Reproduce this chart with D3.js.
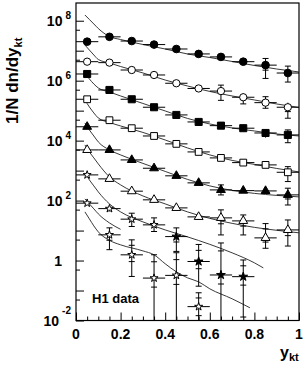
<!DOCTYPE html>
<html><head><meta charset="utf-8">
<script src="https://cdn.jsdelivr.net/npm/d3@7"></script>
<style>
body{margin:0;background:#fff}
svg{display:block}
text{font-family:"Liberation Sans",Arial,Helvetica,sans-serif;font-weight:bold;fill:#000}
</style>
</head><body>
<svg id="chart" width="305" height="371"></svg>
<script>
// ---------- data ----------
const bins = [0.05,0.15,0.25,0.35,0.45,0.55,0.65,0.75,0.85,0.95];
const binHalfWidth = 0.05;

const filledCircle = [2.0e7,2.9e7,2.1e7,1.6e7,1.14e7,7.8e6,6.2e6,4.3e6,3.3e6,1.8e6];
const filledCircleUp = [.05,.05,.05,.05,.05,.05,.05,.1,.67,.7];
const filledCircleDn = [.05,.05,.05,.05,.05,.05,.05,.1,.64,.5];

const openCircle = [4.3e6,4.0e6,2.27e6,1.55e6,8.2e5,5.5e5,4.5e5,2.8e5,1.85e5,1.3e5];
const openCircleUp = [.03,.03,.05,.05,.08,.1,.58,.36,.58,.42];
const openCircleDn = [.03,.03,.05,.05,.08,.1,.51,.4,.35,.57];

const filledSquare = [1.67e6,4.9e5,2.4e5,1.3e5,7.2e4,4.2e4,3.16e4,2.6e4,1.8e4,1.55e4];
const filledSquareUp = [.03,.03,.05,.05,.05,.08,.1,.1,.3,.47];
const filledSquareDn = [.03,.03,.05,.05,.05,.08,.1,.1,.3,.45];

const openSquare = [2.4e5,4.8e4,2.6e4,1.43e4,7.8e3,4.2e3,2.65e3,1.85e3,1.55e3,8.8e2];
const openSquareUp = [.03,.05,.05,.05,.08,.1,.1,.15,.15,.54];
const openSquareDn = [.03,.05,.05,.05,.08,.1,.1,.15,.15,.51];

const filledTriangle = [2.9e4,4.9e3,2.27e3,1.2e3,6.7e2,3.9e2,2.27e2,2.15e2,2.1e2,1.55e2];
const filledTriangleUp = [.03,.05,.05,.08,.1,.1,.47,.15,.2,.67];
const filledTriangleDn = [.03,.05,.05,.08,.1,.1,.32,.15,.2,.54];

const openTriangle = [4.9e3,5.3e2,2.06e2,1.06e2,57,28.6,26.5,21,5.7,10.5];
const openTriangleUp = [.05,.08,.1,.1,.12,.2,.85,.58,2.0,1.15];
const openTriangleDn = [.05,.08,.1,.1,.12,.2,.73,.66,.55,.71];

const openStarA = [719,54,24,15.5];
const openStarAUp = [.1,.2,.58,.71];
const openStarADn = [.1,.2,.43,.40];

const filledStar = [6.3,0.93,0.33,0.29];
const filledStarUp = [.95,2.7,10.7,2.6];
const filledStarDn = [.68,.85,1,.955];

const openStarB = [82,7.2,1.55,0.26,0.32,0.029];
const openStarBUp = [.1,.71,2.16,5.0,4.7,1.9];
const openStarBDn = [.1,.68,.81,1,1,1];

// model curves
const curveX = [0.04,0.06,0.08,0.1,0.15,0.2,0.3,0.4,0.5,0.6,0.7,0.8,0.9,1.0];
const curve1 = [1.55e8,1.1e8,7.8e7,5.5e7,2.97e7,2.36e7,1.61e7,1.14e7,7.76e6,5.93e6,4.37e6,3.21e6,2.45e6,1.95e6];
const curve2 = [1.55e7,1.05e7,7.2e6,5.09e6,3.89e6,2.97e6,1.81e6,1.05e6,6.66e5,4.37e5,3.09e5,2.27e5,1.67e5,1.28e5];
const curve3 = [1.81e6,1.14e6,7.76e5,5.71e5,4.2e5,3.09e5,1.74e5,9.77e4,5.5e4,3.6e4,2.65e4,2.1e4,1.67e4,1.43e4];
const curve4 = [2.27e5,1.33e5,8.4e4,5.7e4,4.04e4,3.09e4,1.88e4,1.05e4,5.71e3,3.34e3,2.19e3,1.61e3,1.18e3,9.05e2];
const curve5 = [3.89e4,2.27e4,1.43e4,9.05e3,4.9e3,3.34e3,1.74e3,9.4e2,5.09e2,3.09e2,2.19e2,1.74e2,1.49e2,1.33e2];
const curve6 = [7.2e3,4.2e3,2.65e3,1.67e3,6.17e2,3.34e2,1.43e2,77.6,42,25.5,17.4,12.8,10.2,8.4];
const curve7X = [0.04,0.06,0.08,0.1,0.15,0.2,0.3,0.4,0.5,0.6,0.7,0.8,0.84];
const curve7 = [840,490,309,195,77.6,42,19.5,10.5,6.17,3.47,1.81,0.84,0.57];
const curve8X = [0.04,0.06,0.08,0.1,0.15,0.2];
const curve8 = [114,77.6,53,36,18,11];
const curve9X = [0.04,0.06,0.08,0.1,0.15,0.2,0.3,0.35,0.4,0.45,0.5,0.55,0.6,0.7,0.78];
const curve9 = [42,24.5,14.3,9.05,4.71,3.34,2.1,1.55,0.78,0.42,0.265,0.195,0.114,0.053,0.0265];

const xTickLabels = ["0","0.2","0.4","0.6","0.8","1"];
const yLabelDecades = [8,6,4,2,0,-2];

// ---------- layout ----------
const svg = d3.select("#chart");
const L = 76, R = 299, T = 3, B = 320.5;
const x = d3.scaleLinear().domain([0,1]).range([L,R]);
const y = d3.scaleLog().domain([1e-2, 3.9e8]).range([B,T]);

svg.append("clipPath").attr("id","plotclip")
  .append("rect").attr("x",L).attr("y",T).attr("width",R-L).attr("height",B-T);

// ---------- axes ----------
const xMinor = d3.range(0,21).map(i=>i*0.05);
const xMajor = xTickLabels.map(Number);
svg.append("g").attr("transform",`translate(0,${B})`)
  .call(d3.axisBottom(x).tickValues(xMinor.filter(v=>!xMajor.some(m=>Math.abs(m-v)<1e-9))).tickSize(-4).tickFormat(""))
  .call(g=>g.select(".domain").remove());
svg.append("g").attr("transform",`translate(0,${B})`)
  .call(d3.axisBottom(x).tickValues(xMajor).tickSize(-8).tickFormat(""))
  .call(g=>g.select(".domain").remove());

const decades = d3.range(-2,9).map(k=>Math.pow(10,k));
const halves = d3.range(-2,8).map(k=>5*Math.pow(10,k));
svg.append("g").attr("transform",`translate(${L},0)`)
  .call(d3.axisLeft(y).tickValues(decades).tickSize(-8).tickFormat(""))
  .call(g=>g.select(".domain").remove());
svg.append("g").attr("transform",`translate(${L},0)`)
  .call(d3.axisLeft(y).tickValues(halves).tickSize(-4).tickFormat(""))
  .call(g=>g.select(".domain").remove());
svg.selectAll(".tick line").attr("stroke","#000").attr("stroke-width",1);

svg.append("rect").attr("x",L).attr("y",T).attr("width",R-L).attr("height",B-T)
  .attr("fill","none").attr("stroke","#000").attr("stroke-width",1.2);

// x tick labels
svg.append("g").selectAll("text").data(xTickLabels).join("text")
  .attr("x",d=>x(+d)).attr("y",B+18.5).attr("text-anchor","middle")
  .attr("font-size",14).text(d=>d);

// y tick labels
const yl = svg.append("g");
yLabelDecades.forEach(k=>{
  const yy = y(Math.pow(10,k));
  if(k===0){
    yl.append("text").attr("x",62).attr("y",yy+5).attr("text-anchor","end").attr("font-size",14).text("1");
  } else {
    const t = yl.append("text").attr("x",71).attr("y",yy+5).attr("text-anchor","end").attr("font-size",14);
    t.append("tspan").text("10");
    t.append("tspan").attr("dy",k<0?-12:-7).attr("dx",3).attr("font-size",10).text(String(k));
  }
});

// axis titles
const yt = svg.append("text").attr("transform",`translate(18,124) rotate(-90)`).attr("font-size",17);
yt.append("tspan").text("1/N dn/dy");
yt.append("tspan").attr("dy",4).attr("font-size",11).text("kt");

const xt = svg.append("text").attr("x",280).attr("y",358).attr("font-size",16);
xt.append("tspan").text("y");
xt.append("tspan").attr("dy",3).attr("font-size",11).text("kt");

svg.append("text").attr("x",92).attr("y",303).attr("font-size",13).text("H1 data");

// ---------- curves ----------
const plot = svg.append("g").attr("clip-path","url(#plotclip)");
const line = d3.line().x(d=>x(d[0])).y(d=>y(d[1])).curve(d3.curveMonotoneX);
const curves = [
  [curveX,curve1],[curveX,curve2],[curveX,curve3],[curveX,curve4],[curveX,curve5],
  [curveX,curve6],[curve7X,curve7],[curve8X,curve8],[curve9X,curve9]
];
curves.forEach(([xs,ys])=>{
  plot.append("path").datum(xs.map((v,i)=>[v,ys[i]])).attr("d",line)
    .attr("fill","none").attr("stroke","#222").attr("stroke-width",0.9);
});

// ---------- data points ----------
const series = [
  {xs:bins, v:filledCircle, up:filledCircleUp, dn:filledCircleDn, sym:d3.symbolCircle, size:46, fill:true},
  {xs:bins, v:openCircle, up:openCircleUp, dn:openCircleDn, sym:d3.symbolCircle, size:42, fill:false},
  {xs:bins, v:filledSquare, up:filledSquareUp, dn:filledSquareDn, sym:d3.symbolSquare, size:50, fill:true},
  {xs:bins, v:openSquare, up:openSquareUp, dn:openSquareDn, sym:d3.symbolSquare, size:46, fill:false},
  {xs:bins, v:filledTriangle, up:filledTriangleUp, dn:filledTriangleDn, sym:d3.symbolTriangle, size:34, fill:true},
  {xs:bins, v:openTriangle, up:openTriangleUp, dn:openTriangleDn, sym:d3.symbolTriangle, size:34, fill:false},
  {xs:bins.slice(0,4), v:openStarA, up:openStarAUp, dn:openStarADn, sym:d3.symbolStar, size:20, fill:false},
  {xs:bins.slice(4,8), v:filledStar, up:filledStarUp, dn:filledStarDn, sym:d3.symbolStar, size:24, fill:true},
  {xs:bins.slice(0,6), v:openStarB, up:openStarBUp, dn:openStarBDn, sym:d3.symbolStar, size:20, fill:false}
];

const eb = plot.append("g").attr("stroke","#000").attr("stroke-width",1);
series.forEach(s=>{
  s.xs.forEach((xv,i)=>{
    const v = s.v[i];
    const cx = x(xv), cy = y(v);
    eb.append("line").attr("x1",x(xv-binHalfWidth)).attr("x2",x(xv+binHalfWidth)).attr("y1",cy).attr("y2",cy);
    const hi = v*(1+s.up[i]);
    const lo = v*(1-s.dn[i]);
    const yHi = y(hi);
    const yLo = lo>0 ? y(lo) : B+5;
    eb.append("line").attr("x1",cx).attr("x2",cx).attr("y1",yHi).attr("y2",yLo);
    // end caps and inner (statistical) ticks
    if(cy-yHi>5){
      eb.append("line").attr("x1",cx-3).attr("x2",cx+3).attr("y1",yHi).attr("y2",yHi);
      if(cy-yHi>10){ const ys=y(v*(1+s.up[i]*0.5)); eb.append("line").attr("x1",cx-3).attr("x2",cx+3).attr("y1",ys).attr("y2",ys); }
    }
    if(yLo-cy>5 && yLo<B){
      eb.append("line").attr("x1",cx-3).attr("x2",cx+3).attr("y1",yLo).attr("y2",yLo);
    }
    if(yLo-cy>10){ const ys=y(v*(1-s.dn[i]*0.5)); eb.append("line").attr("x1",cx-3).attr("x2",cx+3).attr("y1",ys).attr("y2",ys); }
  });
});

series.forEach(s=>{
  plot.append("g").selectAll("path").data(s.xs.map((xv,i)=>[xv,s.v[i]])).join("path")
    .attr("transform",d=>`translate(${x(d[0])},${y(d[1])})`)
    .attr("d",d3.symbol().type(s.sym).size(s.size))
    .attr("fill",s.fill?"#000":"#fff").attr("stroke","#000").attr("stroke-width",1);
});
</script>
</body></html>
